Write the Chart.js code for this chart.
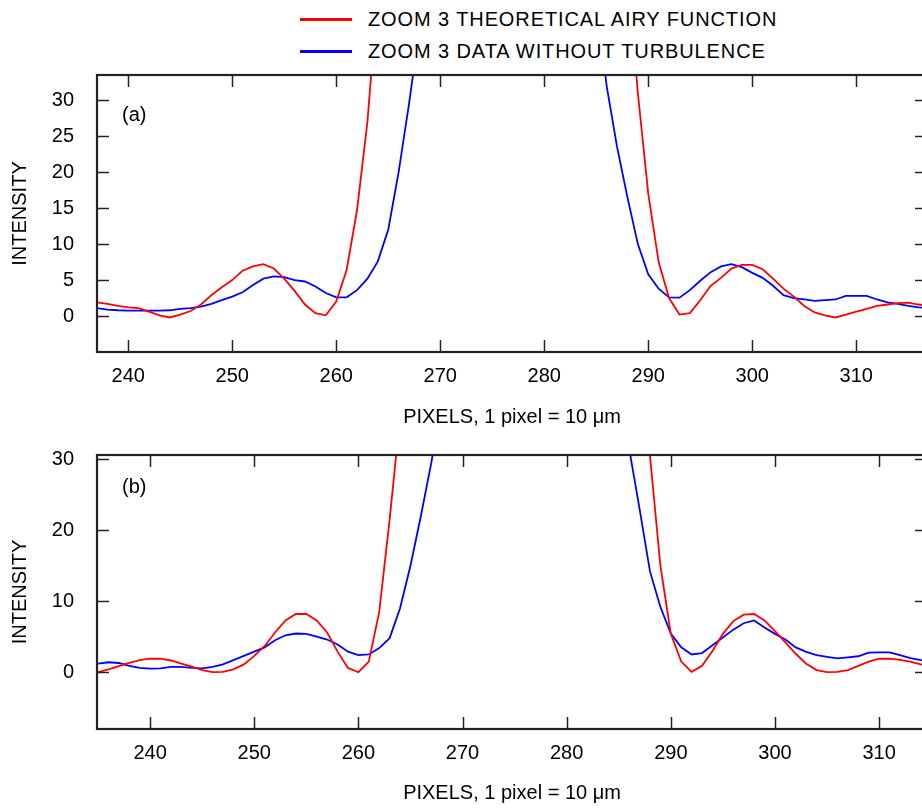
<!DOCTYPE html>
<html>
<head>
<meta charset="utf-8">
<script src="https://cdn.jsdelivr.net/npm/chart.js@4/dist/chart.umd.min.js"></script>
<style>
  html, body { margin: 0; padding: 0; background: #fff; }
  body { width: 922px; height: 808px; overflow: hidden; position: relative; font-family: "Liberation Sans", Arial, sans-serif; }
  .legend { position: absolute; left: 0; top: 0; }
  .legend .row { position: absolute; left: 300px; width: 600px; height: 24px; }
  .legend .swatch { position: absolute; left: 0; top: 11px; width: 52px; height: 2.5px; }
  .legend .label { position: absolute; left: 68px; top: 0; font-size: 20px; line-height: 24px; letter-spacing: 0.9px; color: #000; white-space: nowrap; }
  canvas { position: absolute; left: 0; }
</style>
</head>
<body>
<div class="legend">
  <div class="row" style="top:7px"><span class="swatch" style="background:#ff0000"></span><span class="label">ZOOM 3 THEORETICAL AIRY FUNCTION</span></div>
  <div class="row" style="top:39px"><span class="swatch" style="background:#0000ff"></span><span class="label">ZOOM 3 DATA WITHOUT TURBULENCE</span></div>
</div>
<canvas id="chartA" width="940" height="380" style="top:60px"></canvas>
<canvas id="chartB" width="940" height="368" style="top:440px"></canvas>
<script>
// panel (a)
const pixelsA = [237, 238, 239, 240, 241, 242, 243, 244, 245, 246, 247, 248, 249, 250, 251, 252, 253, 254, 255, 256,
  257, 258, 259, 260, 261, 262, 263, 264, 265, 266, 267, 268, 269, 270, 271, 272, 273, 274, 275, 276,
  277, 278, 279, 280, 281, 282, 283, 284, 285, 286, 287, 288, 289, 290, 291, 292, 293, 294, 295, 296,
  297, 298, 299, 300, 301, 302, 303, 304, 305, 306, 307, 308, 309, 310, 311, 312, 313, 314, 315, 316, 317];
const airyA = [1.9, 1.7, 1.4, 1.2, 1.1, 0.6, 0.1, -0.2, 0.2, 0.7, 1.6, 2.9, 4.0, 5.0, 6.3, 6.9, 7.2, 6.6, 5.2, 3.5,
  1.6, 0.4, 0.1, 2.0, 6.4, 14.7, 27, 45, 68, 95, 125, 160, 195, 230, 262, 290, 312, 328, 338, 342,
  339, 330, 315, 294, 268, 238, 204, 168, 132, 100, 70, 48, 31, 17, 7.5, 2.5, 0.2, 0.4, 2.2, 4.2,
  5.3, 6.6, 7.1, 7.1, 6.5, 5.2, 3.8, 2.7, 1.4, 0.5, 0.1, -0.2, 0.2, 0.6, 1.0, 1.4, 1.6, 1.8, 1.85, 1.6, 1.4];
const dataA = [1.1, 0.9, 0.8, 0.75, 0.75, 0.75, 0.75, 0.8, 1.0, 1.1, 1.3, 1.7, 2.2, 2.7, 3.3, 4.3, 5.2, 5.5, 5.4, 5.0,
  4.8, 4.1, 3.2, 2.6, 2.6, 3.6, 5.2, 7.6, 12, 20, 29.5, 40, 55, 72, 92, 112, 130, 145, 156, 162,
  163, 159, 150, 137, 120, 101, 82, 62, 44, 32, 23.5, 16.5, 10, 5.8, 3.8, 2.6, 2.55, 3.6, 4.9, 6.1,
  6.9, 7.2, 6.8, 6.0, 5.3, 4.2, 2.9, 2.5, 2.3, 2.1, 2.2, 2.3, 2.8, 2.8, 2.8, 2.3, 1.9, 1.7, 1.4, 1.2, 1.1];

// panel (b)
const pixelsB = [235, 236, 237, 238, 239, 240, 241, 242, 243, 244, 245, 246, 247, 248, 249, 250, 251, 252, 253, 254,
  255, 256, 257, 258, 259, 260, 261, 262, 263, 264, 265, 266, 267, 268, 269, 270, 271, 272, 273, 274,
  275, 276, 277, 278, 279, 280, 281, 282, 283, 284, 285, 286, 287, 288, 289, 290, 291, 292, 293, 294,
  295, 296, 297, 298, 299, 300, 301, 302, 303, 304, 305, 306, 307, 308, 309, 310, 311, 312, 313, 314, 315];
const airyB = [0.0, 0.4, 0.85, 1.3, 1.7, 1.9, 1.9, 1.65, 1.2, 0.8, 0.3, 0.0, 0.05, 0.4, 1.1, 2.3, 3.7, 5.6, 7.3, 8.2,
  8.2, 7.3, 5.6, 2.9, 0.6, 0.0, 1.5, 8.5, 21.5, 36, 55, 80, 110, 145, 180, 215, 248, 276, 298, 313,
  322, 325, 322, 313, 297, 275, 248, 216, 180, 144, 108, 76, 46, 30.5, 15, 5.4, 1.5, 0.05, 0.9, 3.0,
  5.4, 7.2, 8.1, 8.2, 7.3, 5.8, 4.2, 2.6, 1.2, 0.3, 0.0, 0.05, 0.3, 0.9, 1.5, 1.9, 1.9, 1.75, 1.5, 1.1, 0.8];
const dataB = [1.2, 1.4, 1.3, 0.9, 0.6, 0.5, 0.55, 0.75, 0.75, 0.6, 0.55, 0.75, 1.1, 1.7, 2.3, 2.9, 3.5, 4.5, 5.2, 5.45,
  5.4, 5.0, 4.6, 3.9, 2.9, 2.4, 2.5, 3.4, 4.8, 9, 15, 22, 29.5, 38, 50, 65, 82, 100, 117, 131,
  142, 148, 150, 147, 139, 126, 110, 92, 73, 56, 41, 31.5, 23, 14.2, 9.2, 5.45, 3.5, 2.5, 2.7, 3.8,
  4.9, 6.0, 6.9, 7.3, 6.3, 5.4, 4.6, 3.5, 2.86, 2.4, 2.15, 1.95, 2.1, 2.25, 2.75, 2.8, 2.8, 2.4, 2.0, 1.7, 1.6];

const xTicks = [240, 250, 260, 270, 280, 290, 300, 310];
const airyLabel = "ZOOM 3 THEORETICAL AIRY FUNCTION";
const dataLabel = "ZOOM 3 DATA WITHOUT TURBULENCE";

Chart.defaults.font.family = "'Liberation Sans', Arial, sans-serif";
Chart.defaults.font.size = 20;
Chart.defaults.color = "#000";

// box around the plot with inward tick marks, plus the panel tag
const framePlugin = {
  id: "frame",
  afterDatasetsDraw(chart, args, opts) {
    const { ctx, chartArea: a, scales } = chart;
    ctx.save();
    ctx.strokeStyle = "#222";
    ctx.lineWidth = 1.5;
    ctx.beginPath();
    scales.x.ticks.forEach((t) => {
      const px = Math.round(scales.x.getPixelForValue(t.value)) + 0.5;
      ctx.moveTo(px, a.bottom); ctx.lineTo(px, a.bottom - 12);
      ctx.moveTo(px, a.top); ctx.lineTo(px, a.top + 12);
    });
    scales.y.ticks.forEach((t) => {
      const py = Math.round(scales.y.getPixelForValue(t.value)) + 0.5;
      ctx.moveTo(a.left, py); ctx.lineTo(a.left + 12, py);
      ctx.moveTo(a.right, py); ctx.lineTo(a.right - 12, py);
    });
    ctx.stroke();
    ctx.lineWidth = 2.2;
    ctx.strokeRect(a.left, a.top, a.right - a.left, a.bottom - a.top);
    ctx.fillStyle = "#000";
    ctx.font = "20px 'Liberation Sans', Arial, sans-serif";
    ctx.textBaseline = "middle";
    ctx.fillText(opts.tag, a.left + opts.dx, a.top + opts.dy);
    ctx.restore();
  },
};

function makePanel(id, pixels, airy, data, cfg) {
  const toPoints = (ys) => pixels.map((p, i) => ({ x: p, y: ys[i] }));
  return new Chart(document.getElementById(id), {
    type: "line",
    data: {
      datasets: [
        { label: airyLabel, data: toPoints(airy), borderColor: "#ff0000", borderWidth: 1.8, pointRadius: 0, tension: 0 },
        { label: dataLabel, data: toPoints(data), borderColor: "#0000ff", borderWidth: 1.8, pointRadius: 0, tension: 0 },
      ],
    },
    options: {
      responsive: false,
      animation: false,
      events: [],
      layout: { padding: { top: 15, right: 13, left: 0, bottom: 0 } },
      plugins: {
        legend: { display: false },
        tooltip: { enabled: false },
        frame: { tag: cfg.tag, dx: 25, dy: cfg.tagDy },
      },
      scales: {
        x: {
          type: "linear",
          min: cfg.xMin,
          max: cfg.xMax,
          grid: { display: false },
          border: { display: false },
          afterBuildTicks: (s) => { s.ticks = xTicks.map((v) => ({ value: v })); },
          ticks: { padding: 4, maxRotation: 0, autoSkip: false, includeBounds: false },
          title: { display: true, text: "PIXELS, 1 pixel = 10 \u03BCm", padding: { top: 0, bottom: cfg.titlePad } },
          afterFit: (s) => { s.height = cfg.xHeight; },
        },
        y: {
          min: cfg.yMin,
          max: cfg.yMax,
          grid: { display: false },
          border: { display: false },
          afterBuildTicks: (s) => { s.ticks = cfg.yTicks.map((v) => ({ value: v })); },
          ticks: { padding: 15, includeBounds: false },
          title: { display: true, text: "INTENSITY", padding: { top: 8, bottom: 0 } },
          afterFit: (s) => { s.width = 97; s.paddingTop = 0; s.paddingBottom = 0; },
        },
      },
    },
    plugins: [framePlugin],
  });
}

makePanel("chartA", pixelsA, airyA, dataA, {
  tag: "(a)", tagDy: 40, xMin: 237.0, xMax: 316.8, yMin: -5, yMax: 33.5,
  yTicks: [0, 5, 10, 15, 20, 25, 30], xHeight: 88, titlePad: 11,
});
makePanel("chartB", pixelsB, airyB, dataB, {
  tag: "(b)", tagDy: 32, xMin: 234.9, xMax: 314.6, yMin: -8, yMax: 30.6,
  yTicks: [0, 10, 20, 30], xHeight: 79, titlePad: 3,
});
</script>
</body>
</html>
